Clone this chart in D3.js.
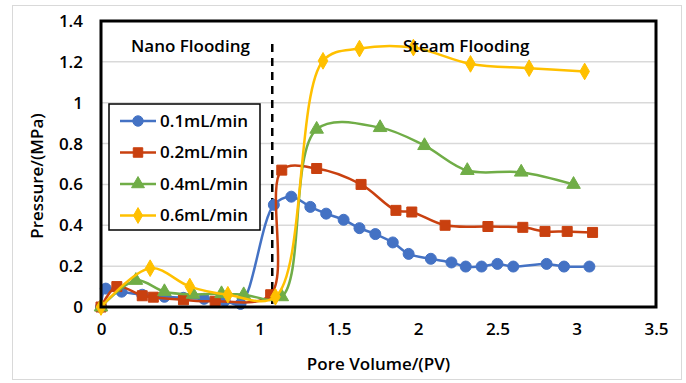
<!DOCTYPE html>
<html>
<head>
<meta charset="utf-8">
<script src="https://cdn.jsdelivr.net/npm/d3@7"></script>
<style>
    body { margin: 0; background: #fff; }
    text { font-family: "Open Sans", "Noto Sans", sans-serif; font-weight: 600; fill: #000; }
</style>
</head>
<body>
<div id="chart"></div>
<script>
// data
var seriesNames = ["0.1mL/min", "0.2mL/min", "0.4mL/min", "0.6mL/min"];
var seriesColours = ["#4472c4", "#c9400f", "#70ad47", "#ffc000"];
var seriesMarkers = ["circle", "square", "triangle", "diamond"];

var blueX = [0, 0.03, 0.13, 0.26, 0.40, 0.52, 0.65, 0.78, 0.88, 1.09, 1.20, 1.32, 1.42, 1.53, 1.63, 1.73, 1.84, 1.94, 2.08, 2.21, 2.30, 2.40, 2.50, 2.60, 2.81, 2.92, 3.08];
var blueY = [0, 0.09, 0.075, 0.06, 0.05, 0.045, 0.04, 0.03, 0.015, 0.50, 0.54, 0.49, 0.457, 0.427, 0.386, 0.357, 0.316, 0.26, 0.236, 0.218, 0.198, 0.198, 0.211, 0.198, 0.211, 0.198, 0.198];

var redX = [0, 0.10, 0.26, 0.33, 0.52, 0.72, 1.07, 1.14, 1.36, 1.64, 1.86, 1.96, 2.17, 2.44, 2.66, 2.80, 2.94, 3.10];
var redY = [0, 0.10, 0.055, 0.048, 0.035, 0.028, 0.06, 0.67, 0.678, 0.60, 0.473, 0.465, 0.40, 0.394, 0.39, 0.37, 0.37, 0.365];

var greenX = [0, 0.22, 0.40, 0.58, 0.76, 0.90, 1.14, 1.36, 1.76, 2.04, 2.31, 2.65, 2.98];
var greenY = [0, 0.13, 0.075, 0.062, 0.065, 0.06, 0.05, 0.87, 0.878, 0.79, 0.668, 0.66, 0.60];

var yellowX = [0, 0.31, 0.56, 0.80, 1.10, 1.40, 1.63, 1.97, 2.33, 2.70, 3.05];
var yellowY = [0, 0.19, 0.10, 0.06, 0.05, 1.205, 1.265, 1.27, 1.19, 1.169, 1.153];

var xTicks = [0, 0.5, 1, 1.5, 2, 2.5, 3, 3.5];
var yTicks = [0, 0.2, 0.4, 0.6, 0.8, 1, 1.2, 1.4];
var dividerX = 1.08;

var allX = [blueX, redX, greenX, yellowX];
var allY = [blueY, redY, greenY, yellowY];

var width = 686, height = 383;
var margin = {top: 21, right: 30, bottom: 76, left: 101};

var svg = d3.select("#chart")
    .append("svg")
    .attr("width", width)
    .attr("height", height);

// outer chart frame
svg.append("rect")
    .attr("x", 12.5).attr("y", 5.5)
    .attr("width", 669).attr("height", 374)
    .attr("fill", "#fff")
    .attr("stroke", "#d9d9d9");

var x = d3.scaleLinear().domain([0, 3.5]).range([margin.left, width - margin.right]);
var y = d3.scaleLinear().domain([0, 1.4]).range([height - margin.bottom, margin.top]);

// gridlines
svg.append("g")
    .selectAll("line")
    .data(yTicks.slice(1))
    .enter()
    .append("line")
    .attr("x1", x(0)).attr("x2", x(3.5))
    .attr("y1", function (d) { return y(d); })
    .attr("y2", function (d) { return y(d); })
    .style("stroke", "#d9d9d9")
    .style("stroke-width", 1.5);

// axes (labels only, Excel style)
var xAxis = svg.append("g")
    .attr("transform", "translate(0," + (y(0) + 13) + ")")
    .call(d3.axisBottom(x).tickValues(xTicks).tickSize(0).tickFormat(d3.format("~g")));
xAxis.select(".domain").remove();
xAxis.selectAll("text").attr("font-size", "17px").attr("dy", "0.71em");

var yAxis = svg.append("g")
    .attr("transform", "translate(" + (x(0) - 15) + ",0)")
    .call(d3.axisLeft(y).tickValues(yTicks).tickSize(0).tickFormat(d3.format("~g")));
yAxis.select(".domain").remove();
yAxis.selectAll("text").attr("font-size", "17px");

// axis titles
svg.append("text")
    .attr("x", (x(0) + x(3.5)) / 2)
    .attr("y", 370)
    .attr("text-anchor", "middle")
    .attr("font-size", "17px")
    .text("Pore Volume/(PV)");

svg.append("text")
    .attr("transform", "translate(43," + ((y(0) + y(1.4)) / 2 + 12) + ") rotate(-90)")
    .attr("text-anchor", "middle")
    .attr("font-size", "17px")
    .text("Pressure/(MPa)");

// dashed divider
svg.append("line")
    .attr("x1", x(dividerX)).attr("x2", x(dividerX))
    .attr("y1", 44).attr("y2", y(0))
    .style("stroke", "#000")
    .style("stroke-width", 2.5)
    .style("stroke-dasharray", "8,6");

function drawMarker(g, kind, colour, size) {
    var sym = {circle: d3.symbolCircle, square: d3.symbolSquare, triangle: d3.symbolTriangle, diamond: d3.symbolDiamond}[kind];
    var area = {circle: 95, square: 100, triangle: 80, diamond: 80}[kind] * size;
    g.append("path")
        .attr("d", d3.symbol().type(sym).size(area))
        .style("fill", colour)
        .style("stroke", colour)
        .style("stroke-width", 1);
}

var line = d3.line()
    .x(function (d) { return x(d[0]); })
    .y(function (d) { return y(d[1]); })
    .curve(d3.curveCatmullRom.alpha(0.5));

for (var i = 0; i < seriesNames.length; i++) {
    var pts = allX[i].map(function (v, j) { return [v, allY[i][j]]; });
    svg.append("path")
        .datum(pts)
        .attr("d", line)
        .style("fill", "none")
        .style("stroke", seriesColours[i])
        .style("stroke-width", 2.5);
    for (var j = 0; j < pts.length; j++) {
        var g = svg.append("g").attr("transform", "translate(" + x(pts[j][0]) + "," + y(pts[j][1]) + ")");
        drawMarker(g, seriesMarkers[i], seriesColours[i], 1);
    }
}

// section labels sit on top of the lines
svg.append("text").attr("x", 131).attr("y", 52).attr("font-size", "17px").text("Nano Flooding");
svg.append("text").attr("x", 403).attr("y", 52).attr("font-size", "17px").text("Steam Flooding");

// plot area border
svg.append("rect")
    .attr("x", x(0)).attr("y", y(1.4))
    .attr("width", x(3.5) - x(0)).attr("height", y(0) - y(1.4))
    .attr("fill", "none")
    .attr("stroke", "#000")
    .attr("stroke-width", 3);

// legend
var legend = svg.append("g").attr("transform", "translate(109,104)");
legend.append("rect")
    .attr("width", 151).attr("height", 126)
    .attr("fill", "#fff")
    .attr("stroke", "#000")
    .attr("stroke-width", 1.5);
for (var k = 0; k < seriesNames.length; k++) {
    var row = legend.append("g").attr("transform", "translate(0," + (17 + k * 31.5) + ")");
    row.append("line")
        .attr("x1", 11).attr("x2", 47)
        .style("stroke", seriesColours[k])
        .style("stroke-width", 2.5);
    drawMarker(row.append("g").attr("transform", "translate(29,0)"), seriesMarkers[k], seriesColours[k], 0.9);
    row.append("text")
        .attr("x", 51).attr("y", 0)
        .attr("dy", "0.35em")
        .attr("font-size", "17px")
        .text(seriesNames[k]);
}
</script>
</body>
</html>
